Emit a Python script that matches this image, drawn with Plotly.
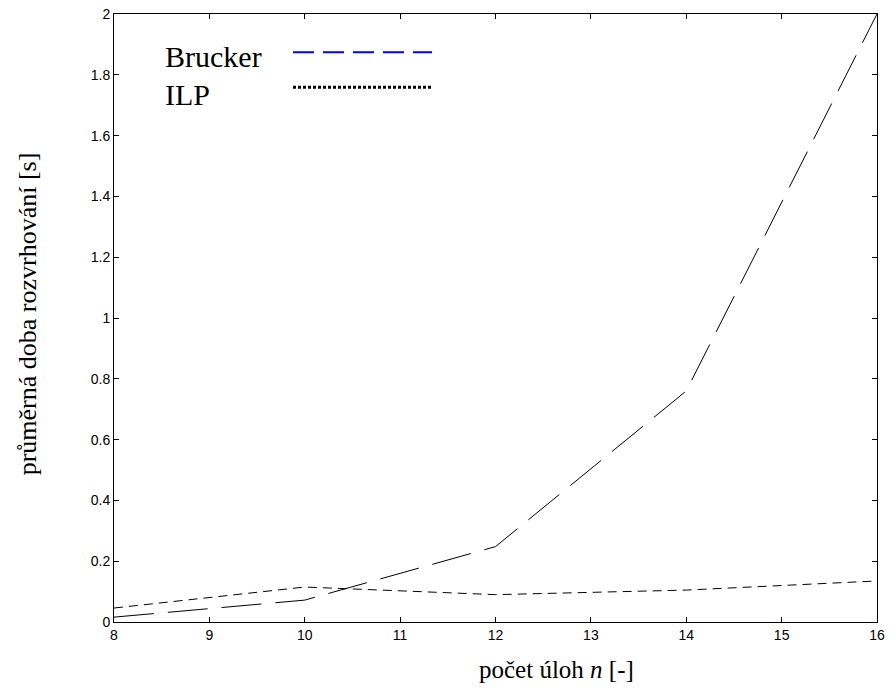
import plotly.graph_objects as go

n_tasks = [8, 10, 12, 14, 16]
brucker = [0.016, 0.072, 0.248, 0.760, 2.0]
ilp = [0.046, 0.115, 0.090, 0.105, 0.135]
legend_labels = ["Brucker", "ILP"]
x_ticks = [8, 9, 10, 11, 12, 13, 14, 15, 16]
y_ticks = [0, 0.2, 0.4, 0.6, 0.8, 1, 1.2, 1.4, 1.6, 1.8, 2]
y_tick_text = ["0", "0.2", "0.4", "0.6", "0.8", "1", "1.2", "1.4", "1.6", "1.8", "2"]
x_title = "počet úloh <i>n</i> [-]"
y_title = "průměrná doba rozvrhování [s]"

fig = go.Figure()
fig.add_trace(go.Scatter(x=n_tasks, y=brucker, mode="lines", name=legend_labels[0],
                         line=dict(color="black", width=1, dash="40px,14px"), showlegend=False))
fig.add_trace(go.Scatter(x=n_tasks, y=ilp, mode="lines", name=legend_labels[1],
                         line=dict(color="black", width=1, dash="9px,6px"), showlegend=False))

serif = "Liberation Serif, Times New Roman, serif"
# manual legend (text left, line sample right)
fig.add_annotation(x=0.064, y=0.930, xref="paper", yref="paper", text=legend_labels[0],
                   showarrow=False, xanchor="left", yanchor="middle",
                   font=dict(family=serif, size=30, color="black"))
fig.add_annotation(x=0.064, y=0.868, xref="paper", yref="paper", text=legend_labels[1],
                   showarrow=False, xanchor="left", yanchor="middle",
                   font=dict(family=serif, size=30, color="black"))
fig.add_shape(type="line", xref="paper", yref="paper", x0=0.2346, x1=0.4168, y0=0.937, y1=0.937,
              line=dict(color="blue", width=2, dash="21px,9px"))
fig.add_shape(type="line", xref="paper", yref="paper", x0=0.2346, x1=0.4168, y0=0.8797, y1=0.8797,
              line=dict(color="black", width=3, dash="3px,2px"))

# axis titles
fig.add_annotation(x=0.58, y=-0.0775, xref="paper", yref="paper", text=x_title, showarrow=False,
                   xanchor="center", yanchor="middle", font=dict(family=serif, size=25, color="black"))
fig.add_annotation(x=-0.114, y=0.506, xref="paper", yref="paper", text=y_title, showarrow=False,
                   textangle=-90, xanchor="center", yanchor="middle",
                   font=dict(family=serif, size=26, color="black"))

tickfont = dict(family="Liberation Sans, Arial, sans-serif", size=14, color="black")
fig.update_xaxes(range=[8, 16], tickvals=x_ticks, ticks="inside", ticklen=5, tickcolor="black",
                 showline=True, linecolor="black", linewidth=1, mirror="allticks",
                 showgrid=False, zeroline=False, tickfont=tickfont, automargin=False)
fig.update_yaxes(range=[0, 2], tickvals=y_ticks, ticktext=y_tick_text, ticks="inside", ticklen=5,
                 tickcolor="black", showline=True, linecolor="black", linewidth=1, mirror="allticks",
                 showgrid=False, zeroline=False, tickfont=tickfont, automargin=False)
fig.update_layout(width=893, height=688, plot_bgcolor="white", paper_bgcolor="white",
                  margin=dict(l=114, r=16, t=14, b=66), showlegend=False)
fig.write_html("out.html")
